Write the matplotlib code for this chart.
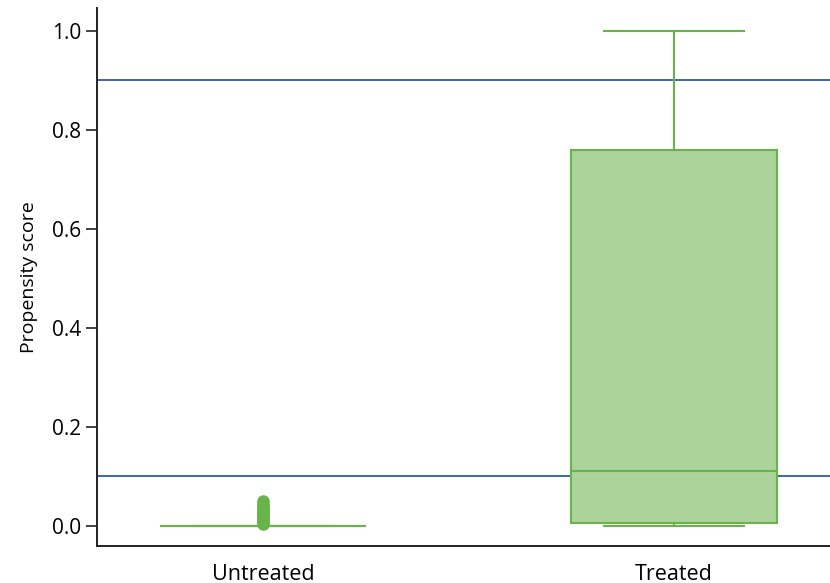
import matplotlib.pyplot as plt

plt.rcParams['font.family'] = ['Open Sans', 'DejaVu Sans']

groups = ["Untreated", "Treated"]
whisker_low = [0.0, 0.0]
q1 = [0.0, 0.006]
median = [0.0, 0.111]
q3 = [0.0, 0.76]
whisker_high = [0.0, 1.0]
untreated_outliers = [0.003, 0.006, 0.009, 0.012, 0.015, 0.018, 0.021,
                      0.024, 0.027, 0.030, 0.033, 0.036, 0.040, 0.045, 0.050]
treated_outliers = []
ref_lines = [0.1, 0.9]

green_edge = "#67b548"
green_fill = "#acd39a"
blue = "#3b66b2"

stats = []
fliers = [untreated_outliers, treated_outliers]
for i, g in enumerate(groups):
    stats.append(dict(label=g, whislo=whisker_low[i], q1=q1[i], med=median[i],
                      q3=q3[i], whishi=whisker_high[i], fliers=fliers[i]))

fig = plt.figure(figsize=(8.3, 5.83), dpi=100)
ax = fig.add_axes([0.117, 0.064, 0.883, 0.922])

for y in ref_lines:
    ax.axhline(y, color=blue, lw=1.4, zorder=1)

ax.bxp(stats, positions=[1, 2], widths=0.5, patch_artist=True,
       boxprops=dict(facecolor=green_fill, edgecolor=green_edge, lw=1.5),
       medianprops=dict(color=green_edge, lw=1.5),
       whiskerprops=dict(color=green_edge, lw=1.5),
       capprops=dict(color=green_edge, lw=1.5),
       capwidths=0.34,
       flierprops=dict(marker='o', markerfacecolor=green_edge,
                       markeredgecolor=green_edge, markersize=8),
       zorder=2)

ax.set_xlim(0.596, 2.38)
ax.set_ylim(-0.04, 1.046)
ax.set_yticks([0.0, 0.2, 0.4, 0.6, 0.8, 1.0])
ax.set_yticklabels(["0.0", "0.2", "0.4", "0.6", "0.8", "1.0"])
ax.set_ylabel("Propensity score", fontsize=14, labelpad=10)
ax.tick_params(axis='y', labelsize=15, length=8, width=1.2, color="#222222")
ax.tick_params(axis='x', labelsize=15.5, length=0, pad=13)
for side in ['top', 'right']:
    ax.spines[side].set_visible(False)
for side in ['left', 'bottom']:
    ax.spines[side].set_linewidth(1.4)
    ax.spines[side].set_color("#222222")

fig.savefig("out.png", dpi=100)
